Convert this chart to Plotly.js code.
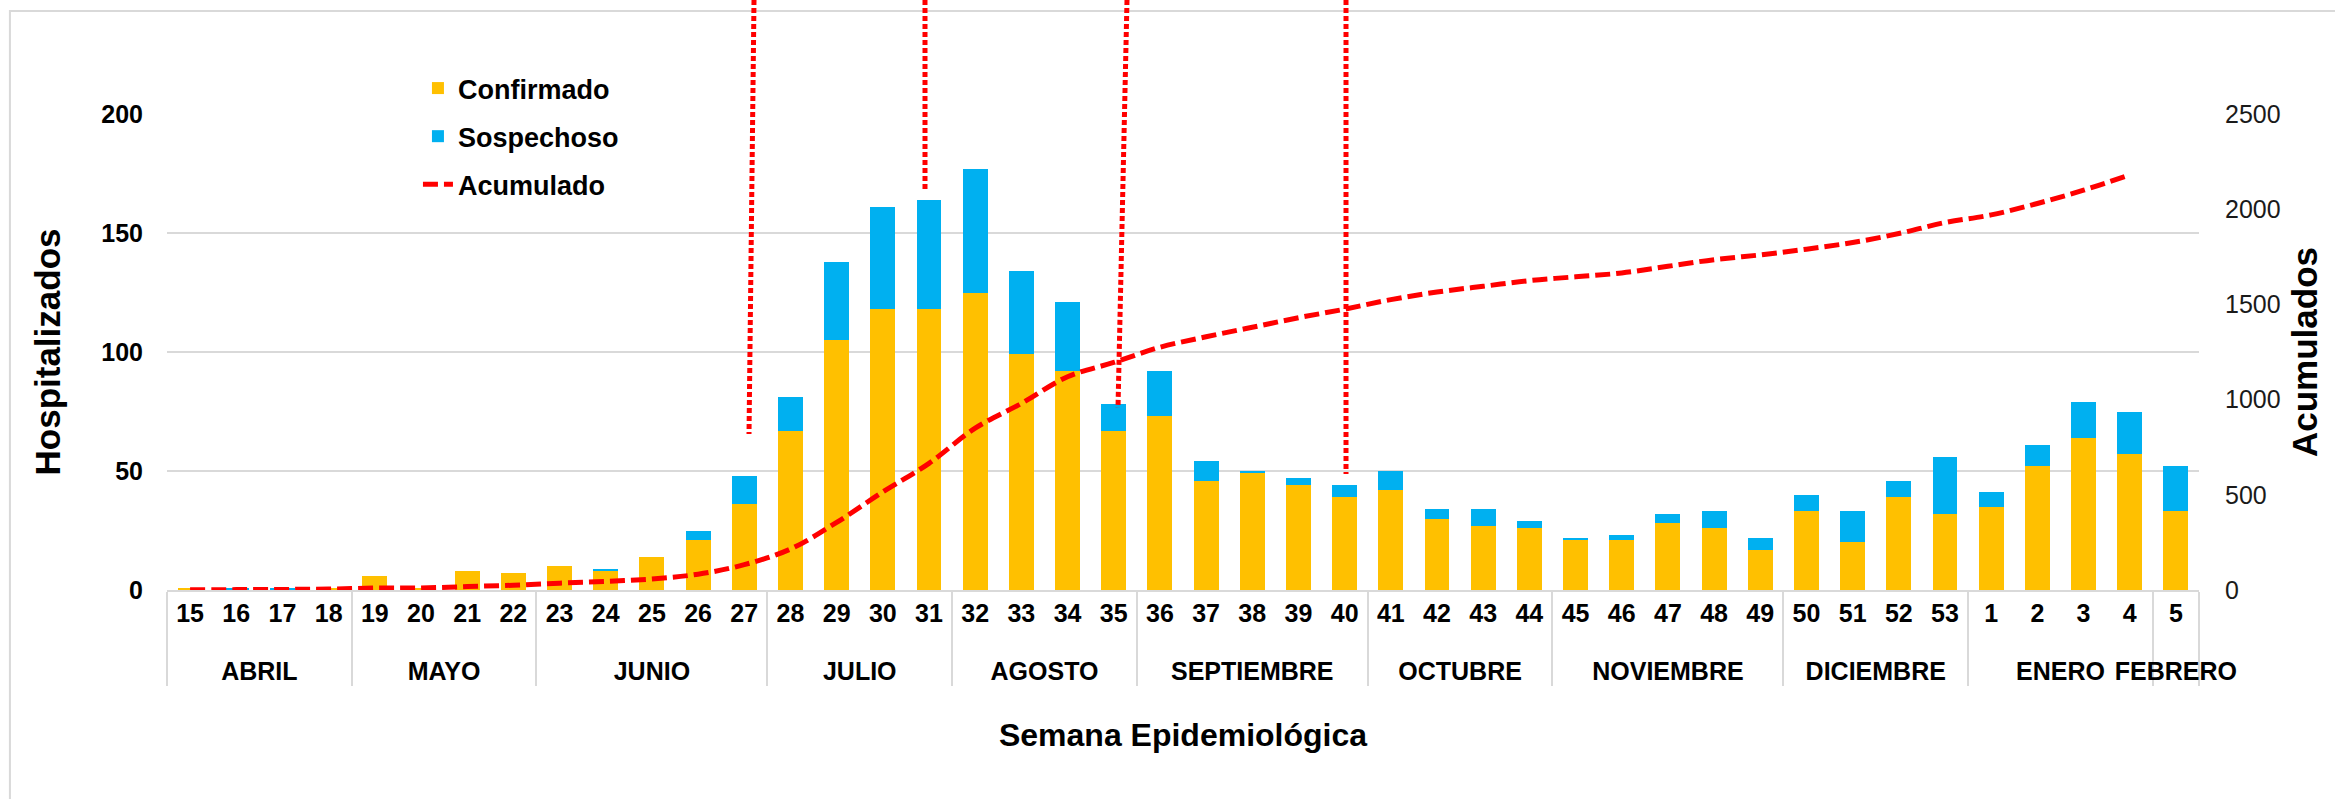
<!DOCTYPE html>
<html>
<head>
<meta charset="utf-8">
<script src="https://cdn.plot.ly/plotly-3.0.1.min.js"></script>
<style>html,body{margin:0;padding:0;background:#fff;}#chart{width:2335px;height:799px;}</style>
</head>
<body>
<div id="chart"></div>
<script>
// Semana epidemiológica (weeks) and months
const weeks = ['15','16','17','18','19','20','21','22','23','24','25','26','27','28','29','30','31','32','33','34','35','36','37','38','39','40','41','42','43','44','45','46','47','48','49','50','51','52','53','1','2','3','4','5'];
const monthNames = ['ABRIL','MAYO','JUNIO','JULIO','AGOSTO','SEPTIEMBRE','OCTUBRE','NOVIEMBRE','DICIEMBRE','ENERO','FEBRERO'];
const weeksPerMonth = [4,4,5,4,4,5,4,5,4,4,1];

// Hospitalizados
const confirmado = [1,0,0,1,6,1,8,7,10,8,14,21,36,67,105,118,118,125,99,92,67,73,46,49,44,39,42,30,27,26,21,21,28,26,17,33,20,39,32,35,52,64,57,33];
const sospechoso = [0,1,1,0,0,0,0,0,0,1,0,4,12,14,33,43,46,52,35,29,11,19,8,1,3,5,8,4,7,3,1,2,4,7,5,7,13,7,24,6,9,15,18,19];
// Acumulados (right axis)
const acumulado = [1,2,3,5,10,11,18,25,36,45,58,83,133,215,355,515,665,850,980,1120,1195,1275,1330,1380,1430,1475,1525,1565,1595,1625,1645,1665,1700,1735,1760,1790,1825,1872,1930,1970,2030,2100,2180,null];

const months = [];
monthNames.forEach((m, i) => { for (let k = 0; k < weeksPerMonth[i]; k++) months.push(m); });
// extra tiny second line under each week label to open the gap to the month row
const weekLabels = weeks.map(w => w + '<br><span style="font-size:1px">\u00a0</span>');
const xcat = [months, weekLabels];

const FONT = 'Liberation Sans, Arial, sans-serif';

const traces = [
  {type:'bar', name:'Confirmado', x:xcat, y:confirmado, marker:{color:'#FFC000'}, legendgroup:'a', yaxis:'y'},
  {type:'bar', name:'Sospechoso', x:xcat, y:sospechoso, marker:{color:'#00B0F0'}, legendgroup:'b', yaxis:'y'},
  {type:'scatter', mode:'lines', name:'Acumulado', x:xcat, y:acumulado, yaxis:'y2', legendgroup:'c',
   line:{color:'#FF0000', width:5, dash:'15px,6px', shape:'spline'}, connectgaps:false}
];

function vline(xt, yt, xb, yb){
  return {type:'line', xref:'paper', yref:'paper', x0:xt, y0:yt, x1:xb, y1:yb, layer:'above',
          line:{color:'#FF0000', width:5, dash:'5px,3px'}};
}

const layout = {
  width:2335, height:799,
  margin:{l:167, r:136, t:114, b:209, pad:0},
  paper_bgcolor:'#ffffff', plot_bgcolor:'#ffffff',
  font:{family:FONT, color:'#000'},
  barmode:'stack', bargap:0.46,
  showlegend:true,
  legend:{x:0.1235, y:1.105, xanchor:'left', yanchor:'top', bgcolor:'rgba(0,0,0,0)',
          font:{family:FONT, size:27, weight:700, color:'#000'}, traceorder:'grouped', tracegroupgap:10},
  xaxis:{type:'multicategory', showgrid:false, showline:true, linecolor:'#D9D9D9', linewidth:2,
         showdividers:true, dividercolor:'#D9D9D9', dividerwidth:2,
         ticks:'outside', ticklen:10, tickcolor:'rgba(0,0,0,0)',
         tickfont:{family:FONT, size:25, weight:700, color:'#000'},
         title:{text:'Semana Epidemiológica', font:{family:FONT, size:32, weight:700, color:'#000'}, standoff:40}},
  yaxis:{range:[0,200], dtick:50, tick0:0, showgrid:true, gridcolor:'#D9D9D9', gridwidth:2, zeroline:false,
         showline:false, ticks:'outside', ticklen:18, tickcolor:'rgba(0,0,0,0)',
         tickfont:{family:FONT, size:25, weight:700, color:'#000'},
         title:{text:'Hospitalizados', font:{family:FONT, size:35, weight:700, color:'#000'}, standoff:30}},
  yaxis2:{range:[0,2500], dtick:500, tick0:0, overlaying:'y', side:'right', showgrid:false, zeroline:false,
          showline:false, ticks:'outside', ticklen:20, tickcolor:'rgba(0,0,0,0)',
          tickfont:{family:FONT, size:25, color:'#1a1a1a'},
          title:{text:'Acumulados', font:{family:FONT, size:35, weight:700, color:'#000'}, standoff:12}},
  shapes:[
    {type:'rect', xref:'paper', yref:'paper', x0:-0.0773, x1:1.072, y0:1.2164, y1:-0.47, layer:'below',
     line:{color:'#D9D9D9', width:2}, fillcolor:'rgba(0,0,0,0)'},
    {type:'rect', xref:'paper', yref:'paper', x0:(273-167)/2032, x1:(735-167)/2032, y0:0.985, y1:1.015, layer:'between',
     line:{width:0}, fillcolor:'#ffffff'},
    vline(0.28888, 1.2395, 0.28642, 0.3277),
    vline(0.37303, 1.2395, 0.37303, 0.8424),
    vline(0.47244, 1.2395, 0.46801, 0.3824),
    vline(0.58022, 1.2395, 0.58022, 0.2437)
  ]
};

Plotly.newPlot('chart', traces, layout, {displayModeBar:false, responsive:false});
</script>
</body>
</html>
